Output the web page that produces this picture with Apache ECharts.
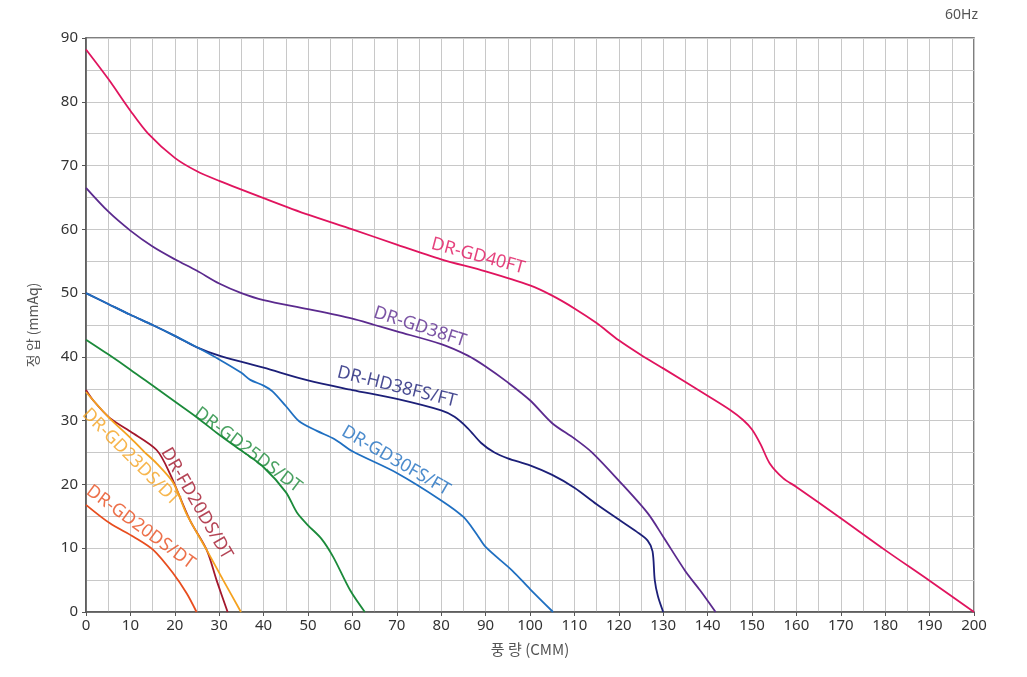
<!DOCTYPE html>
<html>
<head>
<meta charset="utf-8">
<script src="https://cdn.jsdelivr.net/npm/echarts@6/dist/echarts.min.js"></script>
<style>html,body{margin:0;padding:0;background:#fff;}#c{width:1027px;height:677px;}</style>
</head>
<body>
<div id="c"></div>
<script>
// Curve data: [flow (CMM), static pressure (mmAq)]
const GD40FT = [[0,88.2],[5,83.6],[10,78.6],[14,75],[20,71.2],[25,69.1],[30,67.6],[40,64.9],[50,62.3],[60,60],[70,57.6],[80,55.3],[90,53.4],[100,51.2],[105,49.6],[110,47.6],[115,45.3],[120,42.6],[125,40.3],[130,38.2],[140,33.9],[145,31.7],[148,30.1],[150,28.6],[152,26.2],[154,23.3],[157,21],[160,19.6],[170,14.7],[180,9.7],[190,4.9],[200,0]];
const GD38FT = [[0,66.5],[5,62.8],[10,59.8],[15,57.3],[20,55.3],[25,53.5],[30,51.5],[35,50],[40,48.9],[50,47.5],[60,46],[65,45],[70,44],[80,42],[86,40.2],[90,38.5],[95,36],[100,33.2],[105,29.6],[110,27.2],[114,25],[120,20.6],[126.5,15.5],[130,11.8],[135,6.4],[138.3,3.4],[141.8,0]];
const HD38FSFT = [[0,50],[5,48.3],[10,46.6],[15,45],[20,43.3],[25,41.5],[30,40.2],[40,38.3],[50,36.3],[60,34.8],[70,33.4],[80,31.6],[83,30.6],[86,28.8],[89,26.5],[92,25],[95,24.1],[100,23],[105,21.5],[110,19.5],[115,16.9],[120,14.5],[124,12.6],[126.5,11.2],[127.6,9.5],[128.1,5],[128.8,2.5],[130,0]];
const GD30FSFT = [[0,50],[5,48.3],[10,46.6],[15,45],[20,43.3],[25,41.5],[30,39.6],[35,37.5],[37,36.4],[40,35.5],[42,34.6],[45,32.3],[48,29.9],[52,28.4],[56,27.1],[60,25.2],[70,21.8],[80,17.5],[85,14.9],[88,12.2],[90,10.2],[96,6.5],[100,3.6],[105.2,0]];
const GD25DSDT = [[0,42.7],[5,40.4],[10,38],[15,35.5],[20,33],[25,30.5],[30,27.8],[35,25.3],[40,22.7],[45,18.8],[47.5,15.6],[50,13.6],[53,11.5],[55.7,8.6],[59.5,3.4],[62.8,0]];
const FD20DSDT = [[0,34.8],[1.6,33.2],[5.4,30.4],[10,28.3],[15.9,25.4],[18.9,21.7],[23.4,14.4],[27.2,9.7],[29.4,5],[31.9,0]];
const GD23DSDT = [[0,34.5],[5,30.6],[10,27.3],[13,25.2],[15.9,23.3],[19.7,20.2],[22.7,15.3],[27.2,9.7],[30.9,5],[34.9,0]];
const GD20DSDT = [[0,16.8],[5.4,13.9],[10.7,11.8],[15.2,9.7],[19.7,6],[22.7,2.9],[24.9,0]];

const seriesNames = ['DR-GD40FT','DR-GD38FT','DR-HD38FS/FT','DR-GD30FS/FT','DR-GD25DS/DT','DR-FD20DS/DT','DR-GD23DS/DT','DR-GD20DS/DT'];
const seriesData = [GD40FT, GD38FT, HD38FSFT, GD30FSFT, GD25DSDT, FD20DSDT, GD23DSDT, GD20DSDT];
const seriesColors = ['#e0145e','#5b2a8e','#1c1f78','#1f6fc1','#1b8a3a','#a3172c','#f5a21f','#e84d1e'];
// In-chart label anchors (data coords) and angles, same order as seriesNames
const labelX = [88.3, 75.2, 70, 69.8, 36.5, 24.9, 10.1, 12.3];
const labelY = [55.8, 44.7, 35.3, 23.7, 25.4, 17.0, 24.3, 13.3];
const labelAngle = [-15, -18, -14, -30, -37, -60, -45, -36];

const xTicks = {min:0, max:200, interval:10};
const yTicks = {min:0, max:90, interval:10};

const chart = echarts.init(document.getElementById('c'), null, {renderer:'canvas'});
const series = [];
seriesData.forEach((d,i)=>{
  series.push({type:'line', name:seriesNames[i], data:d, smooth:0.3, showSymbol:false, symbol:'none',
    lineStyle:{color:seriesColors[i], width:1.8}, z:3});
});
seriesNames.forEach((n,i)=>{
  series.push({type:'scatter', data:[[labelX[i],labelY[i]]], symbolSize:0, silent:true, z:4,
    label:{show:true, position:'inside', formatter:n, rotate:labelAngle[i], color:seriesColors[i],
      fontSize:18, fontFamily:'Noto Sans'}});
});
chart.setOption({
  animation:false,
  backgroundColor:'#fff',
  grid:{left:86, right:53, top:38, bottom:65, show:true, borderColor:'#555', borderWidth:1.5, backgroundColor:'transparent'},
  graphic:[{type:'text', right:49, top:8, style:{text:'60Hz', fill:'#555', fontSize:14, fontFamily:'Noto Sans'}}],
  xAxis:{type:'value', min:xTicks.min, max:xTicks.max, interval:xTicks.interval,
    name:'풍 량 (CMM)', nameLocation:'middle', nameGap:30,
    nameTextStyle:{color:'#555', fontSize:15, fontFamily:'Noto Sans CJK KR'},
    axisLine:{show:true, lineStyle:{color:'#555', width:1.5}},
    axisTick:{show:true, length:4, lineStyle:{color:'#555'}},
    axisLabel:{color:'#333', fontSize:15, fontFamily:'Noto Sans', margin:6},
    splitLine:{show:true, lineStyle:{color:'#c8c8c8', width:1}},
    minorTick:{show:false, splitNumber:2},
    minorSplitLine:{show:true, lineStyle:{color:'#c8c8c8', width:1}}},
  yAxis:{type:'value', min:yTicks.min, max:yTicks.max, interval:yTicks.interval,
    name:'정 압 (mmAq)', nameLocation:'middle', nameGap:46,
    nameTextStyle:{color:'#555', fontSize:14, fontFamily:'Noto Sans CJK KR'},
    axisLine:{show:true, lineStyle:{color:'#555', width:1.5}},
    axisTick:{show:true, length:4, lineStyle:{color:'#555'}},
    axisLabel:{color:'#333', fontSize:15, fontFamily:'Noto Sans', margin:8},
    splitLine:{show:true, lineStyle:{color:'#c8c8c8', width:1}},
    minorTick:{show:false, splitNumber:2},
    minorSplitLine:{show:true, lineStyle:{color:'#c8c8c8', width:1}}},
  series:series
});
</script>
</body>
</html>
